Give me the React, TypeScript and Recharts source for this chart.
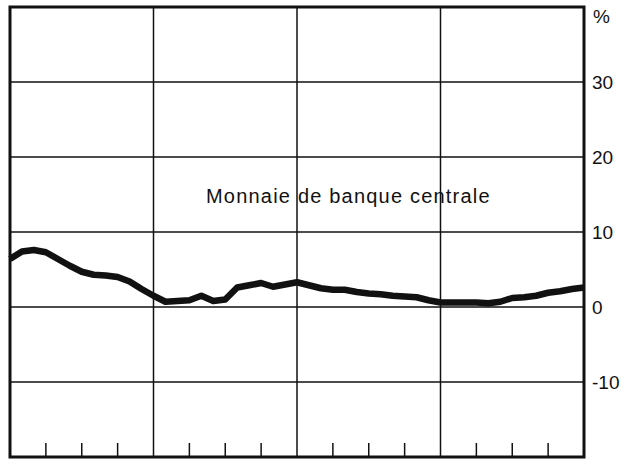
import { LineChart, Line, XAxis, YAxis, ReferenceLine, ReferenceArea } from 'recharts';

// monthly growth rate, % (four years, 49 readings)
const values = [
  6.4, 7.4, 7.6, 7.3, 6.4, 5.5, 4.7, 4.3, 4.2, 4.0, 3.4, 2.4,
  1.5, 0.7, 0.8, 0.9, 1.5, 0.8, 1.0, 2.6, 2.9, 3.2, 2.7, 3.0,
  3.3, 2.9, 2.5, 2.3, 2.3, 2.0, 1.8, 1.7, 1.5, 1.4, 1.3, 0.9,
  0.6, 0.6, 0.6, 0.6, 0.5, 0.7, 1.2, 1.3, 1.5, 1.9, 2.1, 2.4,
  2.6,
];
const yTicks = [-10, 0, 10, 20, 30];
const yearLines = [12, 24, 36];
const quarterTicks = [3, 6, 9, 15, 18, 21, 27, 30, 33, 39, 42, 45];
const seriesLabel = 'Monnaie de banque centrale';
const unitLabel = '%';

const data = values.map((v, i) => ({ m: i, v }));
const FONT = '"Liberation Sans", Arial, Helvetica, sans-serif';

export default function App() {
  return (
    <div style={{ position: 'absolute', left: 0, top: 0, width: 631, height: 460, background: '#fff' }}>
      <LineChart width={631} height={460} data={data} margin={{ top: 7, right: 0, left: 10, bottom: 3 }}>
        <XAxis dataKey="m" type="number" domain={[0, 48]} ticks={quarterTicks} axisLine={false}
          tick={() => <g />} mirror tickSize={14} height={1} interval={0}
          tickLine={{ stroke: '#111', strokeWidth: 1.5 }} />
        <YAxis orientation="right" type="number" domain={[-20, 40]} ticks={yTicks} width={47}
          axisLine={false} tickLine={false} tickSize={6} tickMargin={2}
          tick={{ fontFamily: FONT, fontSize: 19, fill: '#111' }} />

        {yTicks.map((t) => (
          <ReferenceLine key={`h${t}`} y={t} stroke="#111" strokeWidth={1.5} />
        ))}
        {yearLines.map((m) => (
          <ReferenceLine key={`v${m}`} x={m} stroke="#111" strokeWidth={1.5} />
        ))}
        <ReferenceArea x1={0} x2={48} y1={-20} y2={40} fill="none" stroke="#111" strokeWidth={3} ifOverflow="visible" />

        <Line type="linear" dataKey="v" stroke="#111" strokeWidth={6.5} strokeLinejoin="round"
          dot={false} isAnimationActive={false} />
      </LineChart>
      <div style={{ position: 'absolute', left: 593, top: 6, fontFamily: FONT, fontSize: 19, color: '#111' }}>{unitLabel}</div>
      <div style={{ position: 'absolute', left: 206, top: 185, fontFamily: FONT, fontSize: 20, letterSpacing: 1.2, color: '#111', whiteSpace: 'nowrap' }}>
        {seriesLabel}
      </div>
    </div>
  );
}
